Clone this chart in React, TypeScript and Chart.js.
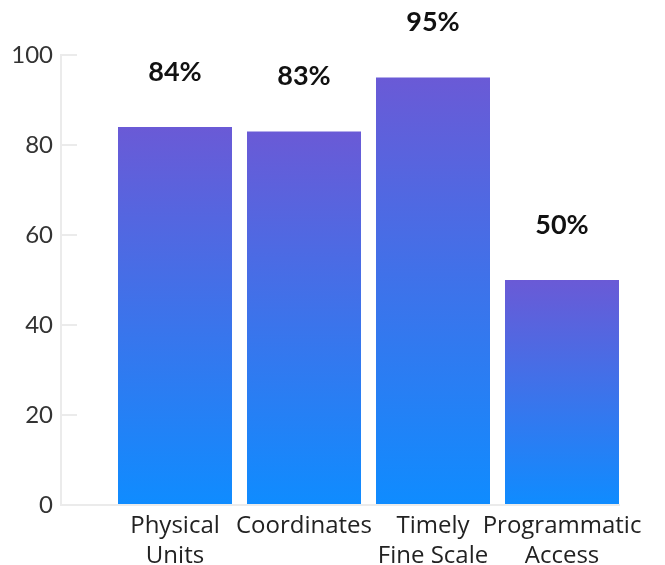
import React, { useEffect, useRef } from "react";
import { Chart, registerables } from "chart.js";

Chart.register(...registerables);

const CATEGORIES: string[][] = [
  ["Physical", "Units"],
  ["Coordinates"],
  ["Timely", "Fine Scale"],
  ["Programmatic", "Access"],
];
const VALUES: number[] = [84, 83, 95, 50];
const VALUE_LABELS: string[] = ["84%", "83%", "95%", "50%"];

const TOP_COLOR = "#6a5ad6";
const BOTTOM_COLOR = "#0f8cff";
const LINE_COLOR = "#ebebeb";

const valueLabelPlugin = {
  id: "valueLabels",
  afterDatasetsDraw(chart: any) {
    const { ctx } = chart;
    const meta = chart.getDatasetMeta(0);
    ctx.save();
    ctx.font = "bold 27px Lato";
    ctx.fillStyle = "#111111";
    ctx.textAlign = "center";
    ctx.textBaseline = "middle";
    meta.data.forEach((bar: any, i: number) => {
      ctx.fillText(VALUE_LABELS[i], bar.x, bar.y - 55);
    });
    ctx.restore();
  },
};

export default function App() {
  const canvasRef = useRef<HTMLCanvasElement | null>(null);

  useEffect(() => {
    document.body.style.margin = "0";
    const canvas = canvasRef.current;
    if (!canvas) return;
    const chart = new Chart(canvas, {
      type: "bar",
      data: {
        datasets: [
          {
            data: VALUES.map((v, i) => ({ x: i, y: v })),
            backgroundColor: (c: any) => {
              const ch = c.chart;
              if (!ch.chartArea || c.type !== "data" || !ch.scales.y) return TOP_COLOR;
              const ys = ch.scales.y;
              const top = ys.getPixelForValue(c.parsed ? c.parsed.y : VALUES[c.dataIndex]);
              const bottom = ys.getPixelForValue(0);
              const g = ch.ctx.createLinearGradient(0, top, 0, bottom);
              g.addColorStop(0, TOP_COLOR);
              g.addColorStop(1, BOTTOM_COLOR);
              return g;
            },
            borderWidth: 0,
            barPercentage: 114 / 129,
            categoryPercentage: 1,
          },
        ],
      },
      options: {
        animation: false,
        responsive: true,
        maintainAspectRatio: false,
        layout: { padding: { top: 55, right: 46, left: 0, bottom: 0 } },
        plugins: { legend: { display: false }, tooltip: { enabled: false } },
        scales: {
          x: {
            type: "linear",
            offset: false,
            min: -114 / 129,
            max: (619 - 61 - 114) / 129,
            afterBuildTicks: (scale: any) => {
              scale.ticks = CATEGORIES.map((_, i) => ({ value: i }));
            },
            afterFit: (scale: any) => {
              scale.height = 60;
            },
            grid: { drawOnChartArea: false, drawTicks: false, offset: false },
            border: { display: true, color: LINE_COLOR, width: 2 },
            ticks: {
              autoSkip: false,
              maxRotation: 0,
              minRotation: 0,
              padding: 6,
              color: "#222222",
              font: { family: "Open Sans", size: 24, lineHeight: 1.25 },
              callback: (v: any) => CATEGORIES[v] ?? "",
            },
          },
          y: {
            min: 0,
            max: 100,
            afterFit: (scale: any) => {
              scale.width = 61;
            },
            grid: {
              drawOnChartArea: false,
              drawTicks: true,
              tickLength: -16,
              color: LINE_COLOR,
              lineWidth: 2,
            },
            border: { display: true, color: LINE_COLOR, width: 2 },
            ticks: {
              stepSize: 20,
              padding: 24,
              color: "#333333",
              font: { family: "Lato", size: 24 },
            },
          },
        },
      },
      plugins: [valueLabelPlugin],
    } as any);
    return () => chart.destroy();
  }, []);

  return (
    <div style={{ position: "relative", width: 665, height: 565 }}>
      <canvas ref={canvasRef} />
    </div>
  );
}
